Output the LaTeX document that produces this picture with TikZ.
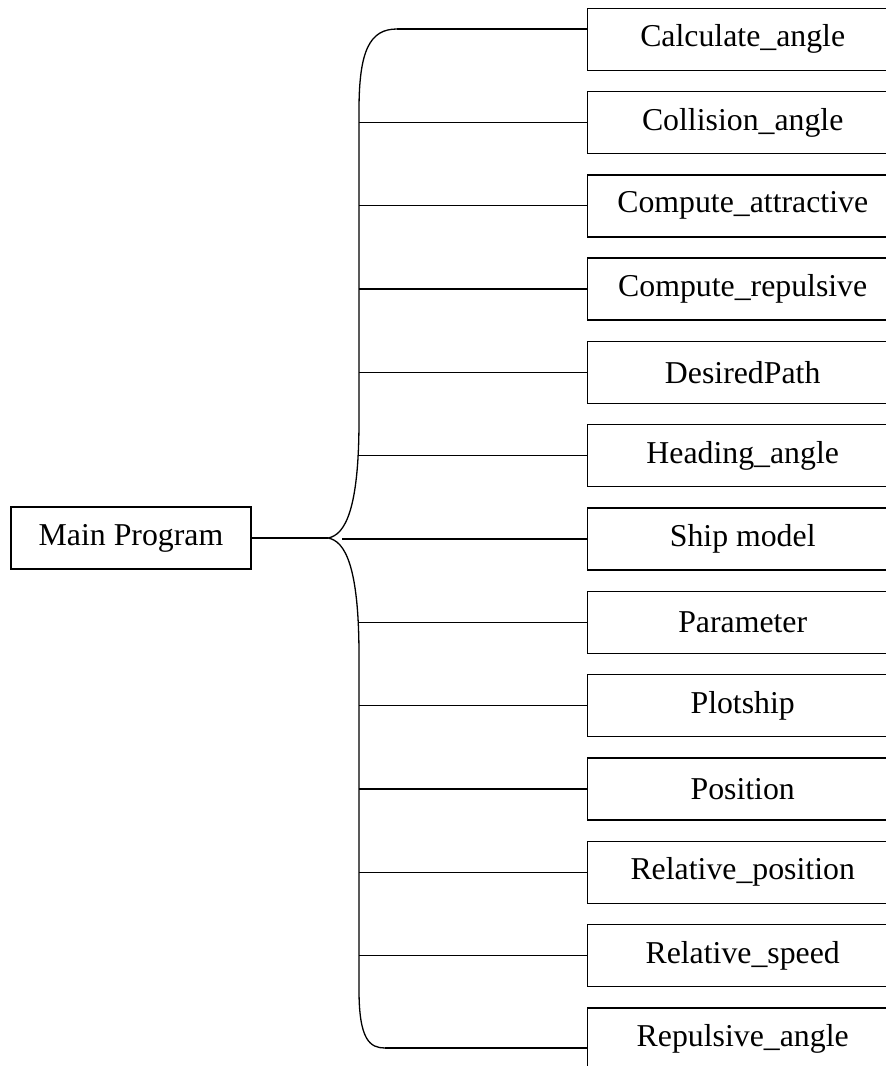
\documentclass[tikz,border=0pt]{standalone}
\usepackage{fontspec}
\setmainfont{Liberation Serif}
\usepackage{tikz}
\usetikzlibrary{positioning,calc}

\begin{document}
\begin{tikzpicture}[
  x=1pt, y=-1pt,
  font=\fontsize{31.8}{36}\selectfont,
  node distance=19.9pt,
  box/.style={draw, line width=1.4pt, minimum height=62pt, inner sep=0pt, align=center},
  sub/.style={box, minimum width=310pt},
  ln/.style={line width=1.3pt},
]
\useasboundingbox (0,0) rectangle (886,1066);
\clip (0,0) rectangle (886,1066);

% ---- main program, left ----
\node[box, minimum width=240pt] (main) at (131,538) {Main Program};

% ---- sub programs, right column ----
\node[sub, anchor=north west] (c1) at (587,7.5) {Calculate\_angle};
\node[sub, below=of c1] (c2) {Collision\_angle};
\node[sub, below=of c2] (c3) {Compute\_attractive};
\node[sub, below=of c3] (c4) {Compute\_repulsive};
\node[sub, below=of c4] (c5) {DesiredPath};
\node[sub, below=of c5] (c6) {Heading\_angle};
\node[sub, below=of c6] (c7) {Ship model};
\node[sub, below=of c7] (c8) {Parameter};
\node[sub, below=of c8] (c9) {Plotship};
\node[sub, below=of c9] (c10) {Position};
\node[sub, below=of c10] (c11) {Relative\_position};
\node[sub, below=of c11] (c12) {Relative\_speed};
\node[sub, below=of c12] (c13) {Repulsive\_angle};

% ---- brace ----
\coordinate (tip) at (328,538);
\coordinate (top) at (397,29);
\coordinate (bot) at (385,1048);
\draw[ln] (top) .. controls (370,29) and (359,50) .. (359,110)
  -- (359,420) .. controls (359,510) and (345,535) .. (tip)
  .. controls (345,541) and (359,566) .. (359,656)
  -- (359,990) .. controls (359,1040) and (370,1048) .. (bot);
\draw[ln] (main) -- (tip);

% ---- branches ----
\draw[ln] (top) -- (top -| c1.west);
\draw[ln] (359,0 |- c2.west) -- (c2.west);
\draw[ln] (359,0 |- c3.west) -- (c3.west);
\draw[ln] (359,0 |- c4.west) -- (c4.west);
\draw[ln] (359,0 |- c5.west) -- (c5.west);
\draw[ln] (359,0 |- c6.west) -- (c6.west);
\draw[ln] (342,0 |- c7.west) -- (c7.west);
\draw[ln] (359,0 |- c8.west) -- (c8.west);
\draw[ln] (359,0 |- c9.west) -- (c9.west);
\draw[ln] (359,0 |- c10.west) -- (c10.west);
\draw[ln] (359,0 |- c11.west) -- (c11.west);
\draw[ln] (359,0 |- c12.west) -- (c12.west);
\draw[ln] (bot) -- (bot -| c13.west);
\end{tikzpicture}
\end{document}
